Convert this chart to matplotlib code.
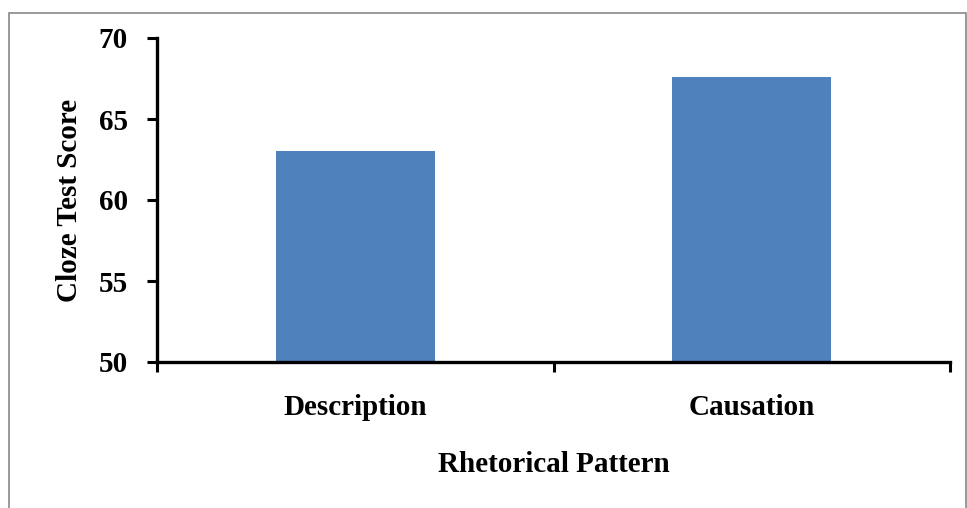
import matplotlib.pyplot as plt
from matplotlib.patches import Rectangle

patterns = ["Description", "Causation"]
scores = [63.0, 67.6]
yticks = [50, 55, 60, 65, 70]

plt.rcParams['font.family'] = ['Liberation Serif', 'DejaVu Serif']
plt.rcParams['font.weight'] = 'bold'

fig = plt.figure(figsize=(9.67, 5.08), dpi=100)
ax = fig.add_axes([157/967, 1-362/508, (950-157)/967, (362-38)/508])

x = range(len(patterns))
ax.bar(x, scores, width=0.4, color="#4F81BD", zorder=2)

ax.set_xlim(-0.5, 1.5)
ax.set_ylim(50, 70)
ax.set_yticks(yticks)
ax.set_yticklabels([str(v) for v in yticks], fontsize=21, fontweight='bold')
ax.set_xticks(list(x))
ax.set_xticklabels(patterns, fontsize=21, fontweight='bold')
ax.set_xticks([-0.5, 0.5, 1.5], minor=True)
ax.tick_params(axis='x', which='major', length=0, pad=23)
ax.tick_params(axis='x', which='minor', length=7, width=2.2, direction='out')
ax.tick_params(axis='y', length=7, width=2.2, direction='out', pad=14)

for s in ['top', 'right']:
    ax.spines[s].set_visible(False)
for s in ['left', 'bottom']:
    ax.spines[s].set_linewidth(2.4)
    ax.spines[s].set_color('black')

ax.set_ylabel("Cloze Test Score", fontsize=21, fontweight='bold', labelpad=11)
ax.set_xlabel("Rhetorical Pattern", fontsize=21, fontweight='bold', labelpad=22)

# gray frame around the chart area
fig.patches.append(Rectangle((9/967, -0.1), (966-9)/967, 1.1 - 13/508,
                             transform=fig.transFigure, fill=False,
                             edgecolor='#888888', linewidth=1.2))

fig.savefig("out.png", dpi=100)
